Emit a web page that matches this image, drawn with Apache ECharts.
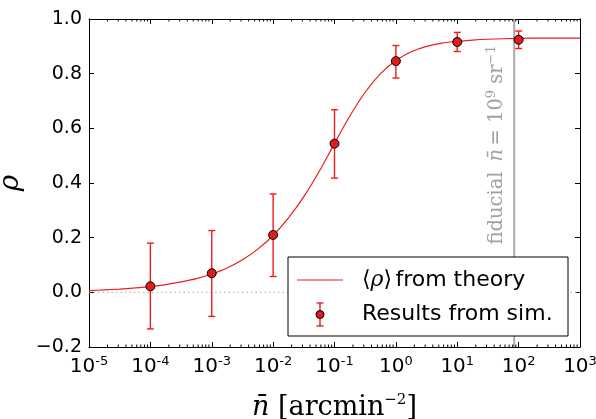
<!DOCTYPE html>
<html>
<head>
<meta charset="utf-8">
<script src="https://cdn.jsdelivr.net/npm/echarts@6/dist/echarts.min.js"></script>
<style>
html,body{margin:0;padding:0;background:#fff;}
#chart{width:596px;height:419px;}
</style>
</head>
<body>
<div id="chart"></div>
<script>
// ---- data ----
// theory curve <rho>(n), sampled in log10(n)
const theoryLogN = [-5,-4.75,-4.5,-4.25,-4,-3.75,-3.5,-3.25,-3,-2.75,-2.5,-2.25,-2,-1.75,-1.5,-1.25,-1,-0.75,-0.5,-0.25,0,0.25,0.5,0.75,1,1.25,1.5,2,2.5,3];
const theoryRho  = [0.006,0.009,0.012,0.016,0.021,0.028,0.038,0.050,0.067,0.089,0.119,0.158,0.208,0.272,0.350,0.442,0.545,0.645,0.732,0.800,0.848,0.880,0.900,0.912,0.918,0.923,0.926,0.929,0.930,0.930];
// simulation results
const simLogN = [-4,-3,-2,-1,0,1,2];
const simRho  = [0.022,0.070,0.210,0.544,0.846,0.916,0.924];
const simLo   = [-0.134,-0.088,0.058,0.418,0.784,0.881,0.892];
const simHi   = [0.180,0.226,0.360,0.668,0.903,0.951,0.956];
// fiducial density: 1e9 sr^-1 in arcmin^-2
const fiducialN = 84.6;
// axes
const xMin = 1e-5, xMax = 1e3;
const yMin = -0.2, yMax = 1.0, yStep = 0.2;
const minorMult = [2,3,4,5,6,7,8,9];
const decades = [-5,-4,-3,-2,-1,0,1,2];

const theoryData = theoryLogN.map((l,i)=>[Math.pow(10,l), theoryRho[i]]);
const simData = simLogN.map((l,i)=>[Math.pow(10,l), simRho[i]]);
const errData = simLogN.map((l,i)=>[Math.pow(10,l), simLo[i], simHi[i]]);
const minorTicks = [];
decades.forEach(d=>minorMult.forEach(m=>minorTicks.push([m*Math.pow(10,d)])));

const RED = '#ee1c1c';
const chart = echarts.init(document.getElementById('chart'), null, {renderer:'canvas'});

const xLabel = {
  formatter: v => '{b|10}{s|' + Math.round(Math.log10(v)) + '}',
  margin: 8,
  rich: {
    b: {fontFamily:'DejaVu Sans', fontSize:20, color:'#000'},
    s: {fontFamily:'DejaVu Sans', fontSize:13, color:'#000', verticalAlign:'top', padding:[0,0,10,0]}
  }
};

const option = {
  animation: false,
  grid: {left:89, right:16, top:19, bottom:72, containLabel:false, outerBoundsMode:'none'},
  xAxis: [{
    type:'log', logBase:10, min:xMin, max:xMax, interval:1, splitNumber:8,
    position:'bottom',
    axisLine:{show:true, onZero:false, lineStyle:{color:'#000', width:1}},
    axisTick:{show:true, inside:true, length:5, lineStyle:{color:'#000'}},
    axisLabel: xLabel,
    splitLine:{show:false},
    name:'{i|n̄}{r| [arcmin}{s|−2}{r|]}',
    nameLocation:'middle', nameGap:46,
    nameTextStyle:{
      rich:{
        i:{fontFamily:'DejaVu Serif', fontStyle:'italic', fontSize:27, color:'#000'},
        r:{fontFamily:'DejaVu Serif', fontSize:27, color:'#000'},
        s:{fontFamily:'DejaVu Serif', fontSize:15, color:'#000', verticalAlign:'top', padding:[0,0,14,0]}
      }
    }
  },{
    type:'log', logBase:10, min:xMin, max:xMax, interval:1, splitNumber:8,
    position:'top',
    axisLine:{show:true, onZero:false, lineStyle:{color:'#000', width:1}},
    axisTick:{show:true, inside:true, length:5, lineStyle:{color:'#000'}},
    axisLabel:{show:false},
    splitLine:{show:false}
  }],
  yAxis: [{
    type:'value', min:yMin, max:yMax, interval:yStep,
    position:'left',
    axisLine:{show:true, onZero:false, lineStyle:{color:'#000', width:1}},
    axisTick:{show:true, inside:true, length:5, lineStyle:{color:'#000'}},
    axisLabel:{fontFamily:'DejaVu Sans', fontSize:19, color:'#000', margin:7,
      formatter: v => v.toFixed(1).replace('-', '\u2212')},
    splitLine:{show:false},
    name:'ρ', nameLocation:'middle', nameGap:58, nameRotate:90,
    nameTextStyle:{fontFamily:'DejaVu Serif', fontStyle:'italic', fontSize:28, color:'#000'}
  },{
    type:'value', min:yMin, max:yMax, interval:yStep,
    position:'right',
    axisLine:{show:true, onZero:false, lineStyle:{color:'#000', width:1}},
    axisTick:{show:true, inside:true, length:5, lineStyle:{color:'#000'}},
    axisLabel:{show:false},
    splitLine:{show:false}
  }],
  series: [
    { // zero line
      type:'line', silent:true, symbol:'none', z:1,
      data:[[xMin,0],[xMax,0]],
      lineStyle:{color:'#aaa', width:1, type:[1.5,3]}
    },
    { // fiducial line
      type:'line', silent:true, symbol:'none', z:1,
      data:[[fiducialN,yMin],[fiducialN,yMax]],
      lineStyle:{color:'#aaaaaa', width:2}
    },
    { // minor ticks
      type:'custom', silent:true, z:3, clip:false,
      data: minorTicks,
      encode:{x:0},
      renderItem:(params, api)=>{
        const b = api.coord([api.value(0), yMin]);
        const t = api.coord([api.value(0), yMax]);
        return {type:'group', children:[
          {type:'line', shape:{x1:b[0], y1:b[1], x2:b[0], y2:b[1]-2.5}, style:{stroke:'#000', lineWidth:1}},
          {type:'line', shape:{x1:t[0], y1:t[1], x2:t[0], y2:t[1]+2.5}, style:{stroke:'#000', lineWidth:1}}
        ]};
      }
    },
    { // theory
      type:'line', name:'theory', symbol:'none', smooth:0.3, z:4,
      data: theoryData,
      lineStyle:{color:RED, width:1.2}
    },
    { // error bars
      type:'custom', silent:true, z:5,
      data: errData,
      encode:{x:0, y:[1,2]},
      renderItem:(params, api)=>{
        const lo = api.coord([api.value(0), api.value(1)]);
        const hi = api.coord([api.value(0), api.value(2)]);
        const w = 3.5;
        const st = {stroke:RED, lineWidth:1.4};
        return {type:'group', children:[
          {type:'line', shape:{x1:lo[0], y1:lo[1], x2:hi[0], y2:hi[1]}, style:st},
          {type:'line', shape:{x1:lo[0]-w, y1:lo[1], x2:lo[0]+w, y2:lo[1]}, style:st},
          {type:'line', shape:{x1:hi[0]-w, y1:hi[1], x2:hi[0]+w, y2:hi[1]}, style:st}
        ]};
      }
    },
    { // points
      type:'scatter', name:'sim', symbol:'circle', symbolSize:9, z:6,
      data: simData,
      itemStyle:{color:'#e31a1c', borderColor:'#000', borderWidth:1, opacity:1}
    }
  ]
};
chart.setOption(option);

// annotation + legend as graphics, positioned through the chart's scales
const textAnchor = chart.convertToPixel({xAxisIndex:0, yAxisIndex:0}, [fiducialN, 0.175]);
const LZ = 100;
chart.setOption({
  graphic: [
    {
      type:'text', z:10,
      x: textAnchor[0]-6, y: textAnchor[1],
      rotation: Math.PI/2,
      style:{
        text:'{a|fiducial}   {i|n̄} {a|= 10}{s|9}{a| sr}{s|−1}',
        align:'left', verticalAlign:'bottom',
        rich:{
          a:{fontFamily:'DejaVu Serif', fontSize:19.5, fill:'#a0a0a0'},
          i:{fontFamily:'DejaVu Serif', fontStyle:'italic', fontSize:19.5, fill:'#a0a0a0'},
          s:{fontFamily:'DejaVu Serif', fontSize:13, fill:'#a0a0a0', verticalAlign:'top', padding:[0,0,10,0]}
        }
      }
    },
    {type:'rect', z:LZ, shape:{x:288, y:257, width:280, height:79}, style:{fill:'#fff', stroke:'#000', lineWidth:1}},
    {type:'line', z:LZ+1, shape:{x1:297, y1:280, x2:343, y2:280}, style:{stroke:RED, lineWidth:1.2}},
    {type:'text', z:LZ+1, x:362, y:280, style:{
      text:'{m|⟨}{i|ρ}{m|⟩} {t|from theory}', verticalAlign:'middle', align:'left',
      rich:{
        m:{fontFamily:'DejaVu Sans', fontSize:22, fill:'#000'},
        i:{fontFamily:'DejaVu Serif', fontStyle:'italic', fontSize:22, fill:'#000'},
        t:{fontFamily:'DejaVu Sans', fontSize:22, fill:'#000'}
      }}},
    {type:'line', z:LZ+1, shape:{x1:320, y1:303, x2:320, y2:326}, style:{stroke:RED, lineWidth:1.4}},
    {type:'line', z:LZ+1, shape:{x1:316.5, y1:303, x2:323.5, y2:303}, style:{stroke:RED, lineWidth:1.4}},
    {type:'line', z:LZ+1, shape:{x1:316.5, y1:326, x2:323.5, y2:326}, style:{stroke:RED, lineWidth:1.4}},
    {type:'circle', z:LZ+2, shape:{cx:320, cy:314.5, r:4}, style:{fill:'#e31a1c', stroke:'#000', lineWidth:1}},
    {type:'text', z:LZ+1, x:362, y:314, style:{
      text:'Results from sim.', verticalAlign:'middle', align:'left',
      fontFamily:'DejaVu Sans', fontSize:22, fill:'#000'}}
  ]
});
</script>
</body>
</html>
